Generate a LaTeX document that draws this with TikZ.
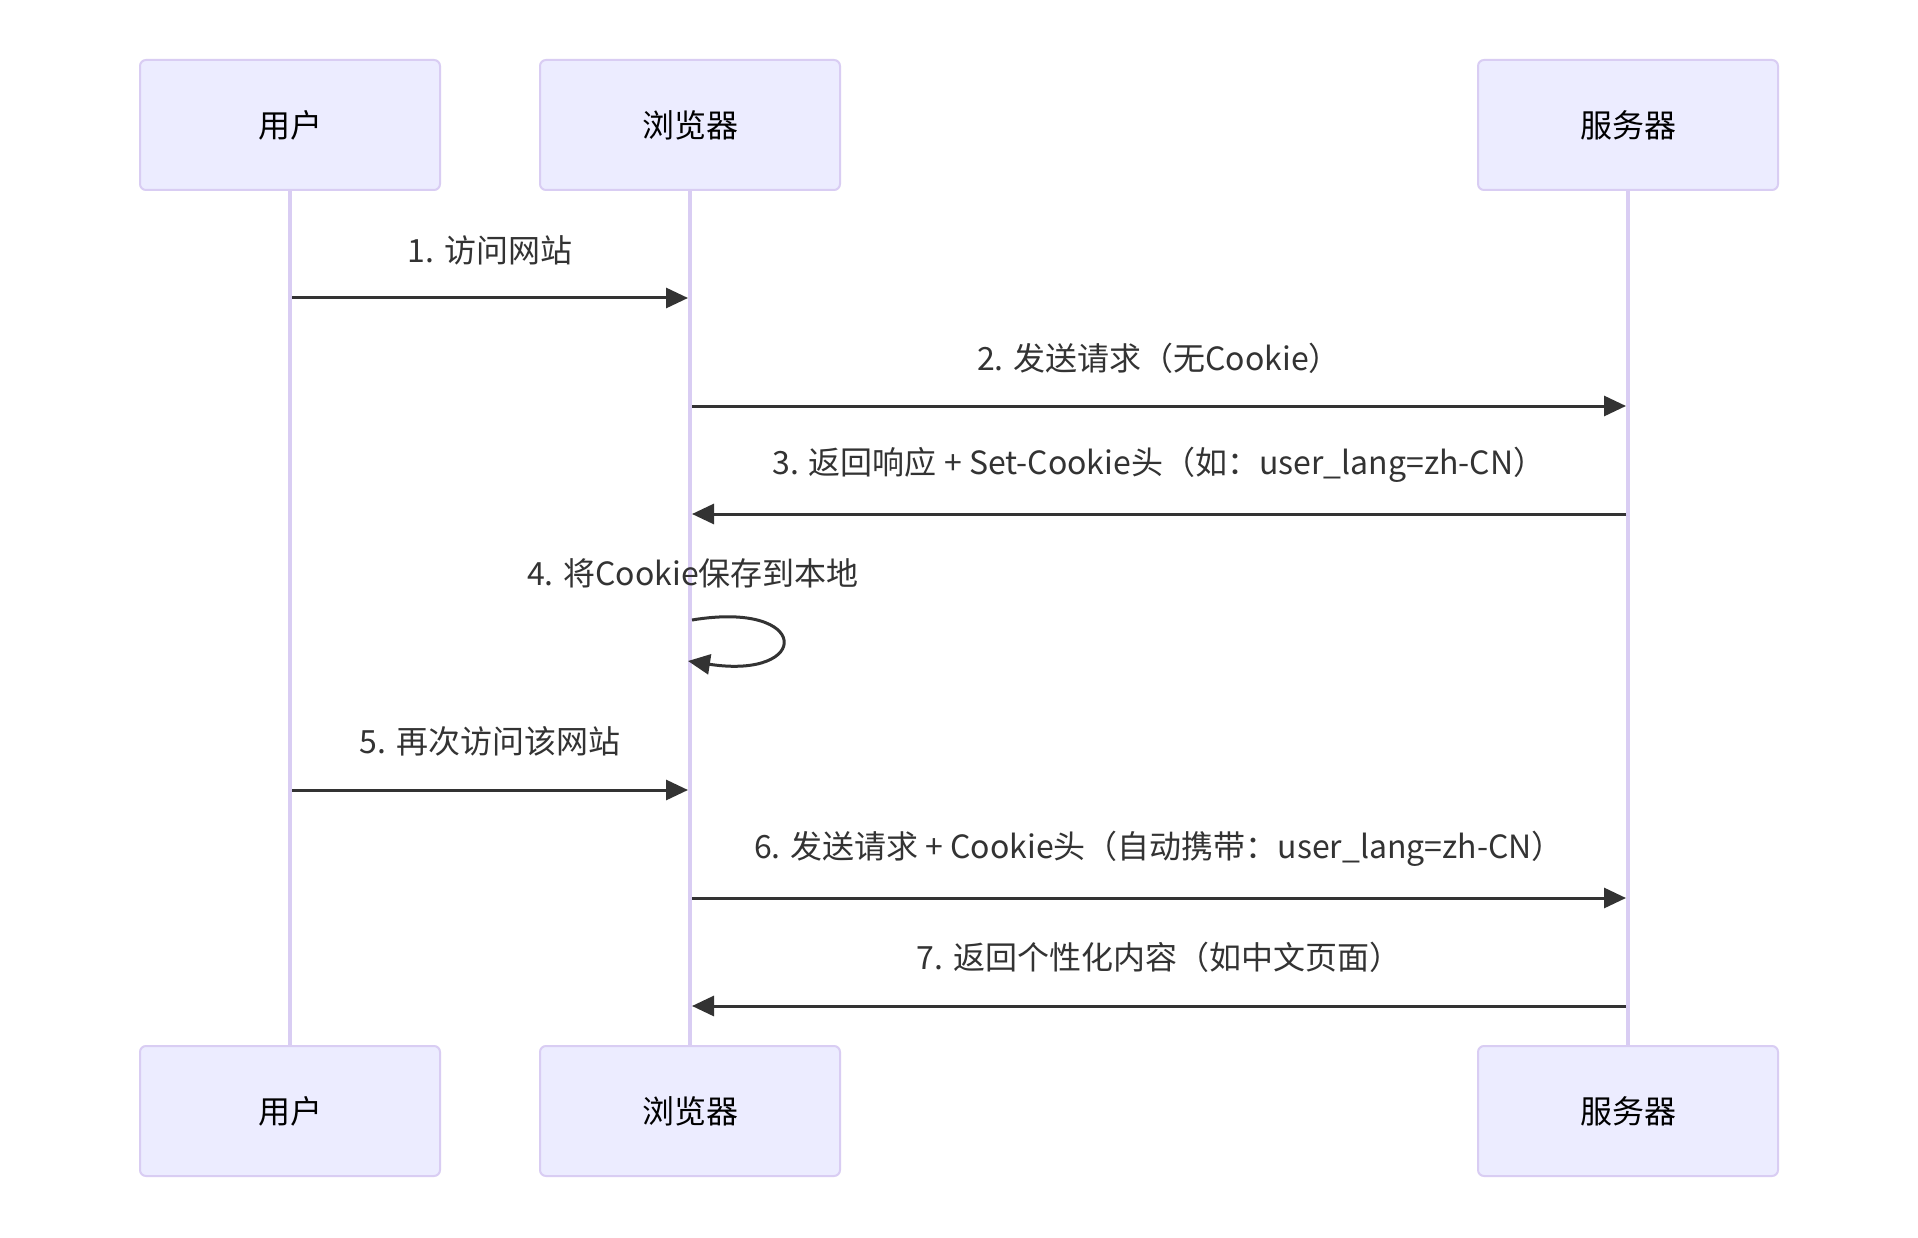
\documentclass[tikz,border=0pt]{standalone}
\usepackage{fontspec}
\setmainfont{Noto Sans CJK SC}
\usetikzlibrary{arrows.meta}
\definecolor{actfill}{HTML}{ECECFF}
\definecolor{actline}{HTML}{D9CDF3}
\definecolor{msg}{HTML}{333333}
\begin{document}
\begin{tikzpicture}[x=1pt,y=-1pt,
  actor/.style={draw=actline, line width=2pt, fill=actfill, rounded corners=6pt,
    minimum width=300pt, minimum height=130pt, inner sep=0pt,
    font=\fontsize{32}{38}\selectfont, text=black},
  lifeline/.style={draw=actline, line width=3.6pt},
  msgline/.style={draw=msg, line width=3pt, -{Triangle[length=22pt,width=20pt]}},
  msglabel/.style={font=\fontsize{32}{38}\selectfont, text=msg, inner sep=0pt}]
\useasboundingbox[fill=white] (0,0) rectangle (1918,1238);
% actors
\node[actor] (ut) at (290,125) {用户};
\node[actor] (bt) at (690,125) {浏览器};
\node[actor] (st) at (1628,125) {服务器};
\node[actor] (ub) at (290,1111) {用户};
\node[actor] (bb) at (690,1111) {浏览器};
\node[actor] (sb) at (1628,1111) {服务器};
% lifelines
\draw[lifeline] (ut.south) -- (ub.north);
\draw[lifeline] (bt.south) -- (bb.north);
\draw[lifeline] (st.south) -- (sb.north);
% message anchor points
\coordinate (u1) at (292,298);  \coordinate (b1) at (688,298);
\coordinate (b2) at (692,406);  \coordinate (s2) at (1626,406);
\coordinate (s3) at (1626,514); \coordinate (b3) at (692,514);
\coordinate (b4s) at (692,620); \coordinate (b4e) at (688,661);
\coordinate (u5) at (292,790);  \coordinate (b5) at (688,790);
\coordinate (b6) at (692,898);  \coordinate (s6) at (1626,898);
\coordinate (s7) at (1626,1006); \coordinate (b7) at (692,1006);
% messages
\draw[msgline] (u1) -- (b1);
\node[msglabel] (l1) at (490,250) {1. 访问网站};
\draw[msgline] (b2) -- (s2);
\node[msglabel] (l2) at (1159,358) {2. 发送请求（无Cookie）};
\draw[msgline] (s3) -- (b3);
\node[msglabel] (l3) at (1159,465) {3. 返回响应 + Set-Cookie头（如：user\_lang=zh-CN）};
\draw[msgline] (b4s) .. controls (812,600) and (812,680) .. (b4e);
\node[msglabel] (l4) at (693,573) {4. 将Cookie保存到本地};
\draw[msgline] (u5) -- (b5);
\node[msglabel] (l5) at (490,741) {5. 再次访问该网站};
\draw[msgline] (b6) -- (s6);
\node[msglabel] (l6) at (1159,849) {6. 发送请求 + Cookie头（自动携带：user\_lang=zh-CN）};
\draw[msgline] (s7) -- (b7);
\node[msglabel] (l7) at (1159,957) {7. 返回个性化内容（如中文页面）};
\end{tikzpicture}
\end{document}
